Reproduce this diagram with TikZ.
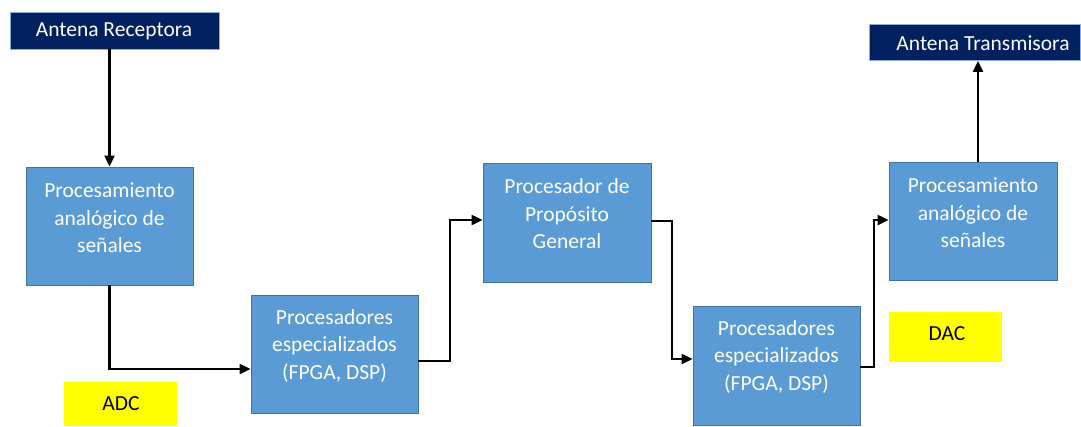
\documentclass[tikz,border=0pt]{standalone}
\usepackage{fontspec}
\setmainfont{Carlito}
\usetikzlibrary{arrows.meta}
\definecolor{boxblue}{HTML}{5B9BD5}
\definecolor{boxedge}{HTML}{41719C}
\definecolor{navy}{HTML}{002060}
\definecolor{navyedge}{HTML}{8FAADC}
\definecolor{tagyellow}{HTML}{FFFF00}
\tikzset{
  block/.style={draw=boxedge, line width=0.9pt, fill=boxblue, inner sep=0pt},
  blocktext/.style={text=white, align=center, inner sep=0pt,
    font=\fontsize{21.5}{27.6}\selectfont},
  antenna/.style={draw=navyedge, line width=0.9pt, fill=navy, inner sep=0pt},
  antennatext/.style={text=white, inner sep=0pt, font=\fontsize{21.5}{26}\selectfont},
  tag/.style={fill=tagyellow, inner sep=0pt},
  tagtext/.style={text=black, inner sep=0pt, font=\fontsize{21.5}{26}\selectfont},
  arr/.style={line width=2.2pt, -{Triangle[length=11pt,width=10pt]}},
}
\begin{document}
\begin{tikzpicture}[x=1pt, y=-1pt]
  \useasboundingbox (0,0) rectangle (1081,426);

  % antennas
  \node[antenna, minimum width=209pt, minimum height=37pt] (antR) at (114.5,30.5) {};
  \node[antennatext] (antRt) at (114,31) {Antena Receptora};
  \node[antenna, minimum width=211pt, minimum height=36pt] (antT) at (974.5,42.5) {};
  \node[antennatext] (antTt) at (983,43) {Antena Transmisora};

  % processing blocks
  \node[block, minimum width=167pt, minimum height=118pt] (b1) at (109.5,226) {};
  \node[blocktext] (b1t) at (109.5,218) {Procesamiento\\analógico de\\señales};

  \node[block, minimum width=167pt, minimum height=118pt] (b2) at (334.5,354.5) {};
  \node[blocktext] (b2t) at (334.5,346) {Procesadores\\especializados\\(FPGA, DSP)};

  \node[block, minimum width=168pt, minimum height=119pt] (b3) at (567,222.5) {};
  \node[blocktext] (b3t) at (567,214) {Procesador de\\Propósito\\General};

  \node[block, minimum width=167pt, minimum height=119pt] (b4) at (776.5,365.5) {};
  \node[blocktext] (b4t) at (776.5,357) {Procesadores\\especializados\\(FPGA, DSP)};

  \node[block, minimum width=168pt, minimum height=118pt] (b5) at (973,221) {};
  \node[blocktext] (b5t) at (973,213) {Procesamiento\\analógico de\\señales};

  % converter tags
  \node[tag, minimum width=113pt, minimum height=44pt] (adc) at (120.5,404) {};
  \node[tagtext] (adct) at (121,404) {ADC};
  \node[tag, minimum width=113pt, minimum height=50pt] (dac) at (945.5,337) {};
  \node[tagtext] (dact) at (947,334) {DAC};

  % signal path
  \draw[arr] (b1.north |- antR.south) -- (b1.north);
  \draw[arr] (b1.south) |- (b2.west |- 0,369);
  \draw[arr] (b2.east |- 0,361) -- (450,361) |- (b3.west |- 0,220);
  \draw[arr] (b3.east |- 0,221) -- (672,221) |- (b4.west |- 0,359);
  \draw[arr] (b4.east |- 0,367) -- (874,367) |- (b5.west |- 0,220);
  \draw[arr] (b5.north -| 978,0) -- (antT.south -| 978,0);
\end{tikzpicture}
\end{document}
